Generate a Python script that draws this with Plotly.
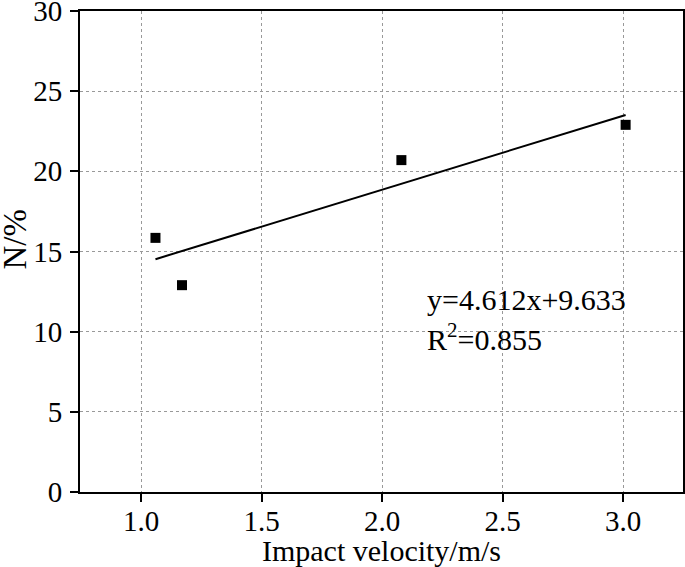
import plotly.graph_objects as go

velocity = [1.06, 1.17, 2.08, 3.01]
n_percent = [15.85, 12.9, 20.7, 22.9]
slope = 4.612
intercept = 9.633
r2 = 0.855
fit_x = [min(velocity), max(velocity)]
fit_y = [slope * v + intercept for v in fit_x]

x_ticks = [1.0, 1.5, 2.0, 2.5, 3.0]
x_ticklabels = ["1.0", "1.5", "2.0", "2.5", "3.0"]
y_ticks = [0, 5, 10, 15, 20, 25, 30]

font_family = "Liberation Serif"
TICK_FS = 29
TEXT_FS = 30

fig = go.Figure()
fig.add_trace(go.Scatter(x=fit_x, y=fit_y, mode="lines",
                         line=dict(color="black", width=2), showlegend=False))
fig.add_trace(go.Scatter(x=velocity, y=n_percent, mode="markers",
                         marker=dict(symbol="square", size=10, color="black"),
                         showlegend=False))

fig.add_annotation(x=2.178, y=12.0, xref="x", yref="y", xanchor="left", yanchor="middle",
                   text=f"y={slope}x+{intercept}", showarrow=False,
                   font=dict(family=font_family, size=TEXT_FS, color="black"))
fig.add_annotation(x=2.178, y=9.65, xref="x", yref="y", xanchor="left", yanchor="middle",
                   text=f"R<sup>2</sup>={r2}", showarrow=False,
                   font=dict(family=font_family, size=TEXT_FS, color="black"))
# y-axis title
fig.add_annotation(x=0, y=0.525, xref="paper", yref="paper", xshift=-65,
                   xanchor="center", yanchor="middle", textangle=-90,
                   text="N/%", showarrow=False,
                   font=dict(family=font_family, size=33, color="black"))

axis_common = dict(showline=True, linecolor="black", linewidth=2, mirror=True,
                   ticks="outside", ticklen=8, tickwidth=2, tickcolor="black",
                   showgrid=True, gridcolor="#999999", griddash="dot", gridwidth=1,
                   zeroline=False, automargin=False, ticklabeloverflow="allow",
                   tickfont=dict(family=font_family, size=TICK_FS, color="black"))

fig.update_xaxes(range=[0.747, 3.248], tickvals=x_ticks, ticktext=x_ticklabels,
                 ticklabelstandoff=-6,
                 title=dict(text="Impact velocity/m/s", standoff=6,
                            font=dict(family=font_family, size=TEXT_FS, color="black")),
                 **axis_common)
fig.update_yaxes(range=[0, 30], tickvals=y_ticks, ticklabelstandoff=2,
                 **axis_common)

fig.update_layout(template="none", width=685, height=567,
                  margin=dict(l=80, r=2, t=11, b=75),
                  plot_bgcolor="white", paper_bgcolor="white",
                  font=dict(family=font_family, color="black"))

fig.write_html("out.html", config={"displayModeBar": False},
               post_script="document.body.style.margin='0';")
